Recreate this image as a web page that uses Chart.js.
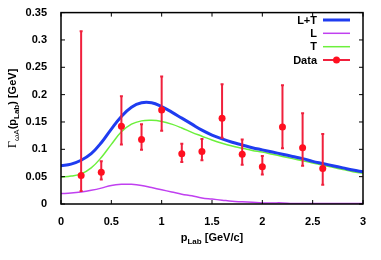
<!DOCTYPE html>
<html>
<head>
<meta charset="utf-8">
<script src="https://cdn.jsdelivr.net/npm/chart.js@4.4.1/dist/chart.umd.min.js"></script>
<style>
  html, body { margin: 0; padding: 0; background: #fff; }
  canvas { display: block; }
</style>
</head>
<body>
<canvas id="chart" width="381" height="260"></canvas>
<script>
const pGrid = [0, 0.1, 0.2, 0.3, 0.4, 0.5, 0.6, 0.7, 0.8, 0.9, 1.0,
               1.1, 1.2, 1.3, 1.4, 1.5, 1.6, 1.7, 1.8, 1.9, 2.0,
               2.1, 2.2, 2.3, 2.4, 2.5, 2.6, 2.7, 2.8, 2.9, 3.0];
const gammaLT = [0.070, 0.073, 0.080, 0.092, 0.112, 0.137, 0.160, 0.177, 0.185, 0.185, 0.178,
                 0.168, 0.157, 0.146, 0.135, 0.126, 0.119, 0.113, 0.108, 0.103, 0.099,
                 0.095, 0.091, 0.087, 0.083, 0.078, 0.074, 0.070, 0.066, 0.062, 0.059];
const gammaL = [0.019, 0.020, 0.022, 0.025, 0.029, 0.034, 0.036, 0.036, 0.034, 0.030, 0.026,
                0.022, 0.018, 0.015, 0.011, 0.009, 0.007, 0.005, 0.004, 0.003, 0.002,
                0.002, 0.002, 0.001, 0.001, 0.001, 0.001, 0.001, 0.001, 0.001, 0.001];
const gammaT = [0.049, 0.051, 0.055, 0.066, 0.085, 0.109, 0.132, 0.146, 0.152, 0.153, 0.151,
                0.146, 0.139, 0.131, 0.124, 0.117, 0.111, 0.106, 0.102, 0.098, 0.095,
                0.091, 0.087, 0.083, 0.079, 0.075, 0.071, 0.067, 0.063, 0.059, 0.056];

// Datos experimentales con barras de error
const pData = [0.2, 0.4, 0.6, 0.8, 1.0, 1.2, 1.4, 1.6, 1.8, 2.0, 2.2, 2.4, 2.6];
const gammaData = [0.052, 0.058, 0.142, 0.118, 0.172, 0.092, 0.096, 0.157, 0.091, 0.068, 0.141, 0.103, 0.065];
const errHigh = [0.316, 0.078, 0.197, 0.146, 0.233, 0.110, 0.119, 0.219, 0.118, 0.088, 0.217, 0.166, 0.128];
const errLow = [0.024, 0.045, 0.109, 0.099, 0.134, 0.077, 0.080, 0.121, 0.072, 0.054, 0.102, 0.070, 0.035];

// Marcas de los ejes
const xTickValues = [0, 0.5, 1, 1.5, 2, 2.5, 3];
const yTickValues = [0, 0.05, 0.1, 0.15, 0.2, 0.25, 0.3, 0.35];

const FONT = "'Liberation Sans', Arial, sans-serif";
const RED = '#ff1020';
const BAR = '#f0203c';

Chart.defaults.font.family = FONT;
Chart.defaults.font.size = 11;
Chart.defaults.font.weight = 'bold';
Chart.defaults.color = '#000';

// texto con subíndices: partes consecutivas
function drawRich(ctx, parts, x, y) {
    let total = 0;
    parts.forEach(p => {
        ctx.font = `${p.weight || 'bold'} ${p.size}px ${p.family || FONT}`;
        p.w = ctx.measureText(p.t).width;
        total += p.w;
    });
    let cx = x - total / 2;
    ctx.textAlign = 'left';
    ctx.textBaseline = 'alphabetic';
    parts.forEach(p => {
        ctx.font = `${p.weight || 'bold'} ${p.size}px ${p.family || FONT}`;
        ctx.fillText(p.t, cx, y + (p.dy || 0));
        cx += p.w;
    });
}

const framePlugin = {
    id: 'frame',
    beforeDatasetDraw(chart, args) {
        // barras de error antes de dibujar los puntos
        if (args.index !== 3) return;
        const { ctx, scales: { x, y } } = chart;
        ctx.save();
        ctx.strokeStyle = BAR;
        ctx.lineWidth = 2;
        ctx.beginPath();
        pData.forEach((p, i) => {
            const px = x.getPixelForValue(p);
            const top = y.getPixelForValue(errHigh[i]);
            const bot = y.getPixelForValue(errLow[i]);
            ctx.moveTo(px, top); ctx.lineTo(px, bot);
            ctx.moveTo(px - 1.5, top); ctx.lineTo(px + 1.5, top);
            ctx.moveTo(px - 1.5, bot); ctx.lineTo(px + 1.5, bot);
        });
        ctx.stroke();
        ctx.restore();
    },
    afterDraw(chart) {
        const { ctx, chartArea: a, scales: { x, y } } = chart;
        ctx.save();
        ctx.strokeStyle = '#000';
        ctx.lineWidth = 1.5;
        ctx.strokeRect(a.left, a.top, a.right - a.left, a.bottom - a.top);

        // marcas hacia dentro en los cuatro lados
        const t = 4;
        ctx.lineWidth = 1;
        ctx.beginPath();
        x.ticks.forEach(tk => {
            const px = x.getPixelForValue(tk.value);
            ctx.moveTo(px, a.bottom); ctx.lineTo(px, a.bottom - t);
            ctx.moveTo(px, a.top); ctx.lineTo(px, a.top + t);
        });
        y.ticks.forEach(tk => {
            const py = y.getPixelForValue(tk.value);
            ctx.moveTo(a.left, py); ctx.lineTo(a.left + t, py);
            ctx.moveTo(a.right, py); ctx.lineTo(a.right - t, py);
        });
        ctx.stroke();

        // títulos de los ejes
        ctx.fillStyle = '#000';
        drawRich(ctx, [
            { t: 'p', size: 11 },
            { t: 'Lab', size: 8, dy: 3 },
            { t: ' [GeV/c]', size: 11 }
        ], (a.left + a.right) / 2, 241);

        ctx.save();
        ctx.translate(13, (a.top + a.bottom) / 2);
        ctx.rotate(-Math.PI / 2);
        drawRich(ctx, [
            { t: 'Γ', size: 12, weight: 'normal', family: "'Liberation Serif', serif" },
            { t: 'ωA', size: 8, weight: 'normal', dy: 3 },
            { t: '(p', size: 11 },
            { t: 'Lab', size: 8, dy: 3 },
            { t: ') [GeV]', size: 11 }
        ], 0, 3);
        ctx.restore();

        // leyenda: texto a la izquierda, muestra a la derecha
        const rows = [20, 33.3, 46.7, 60];
        ctx.font = `bold 11px ${FONT}`;
        ctx.textAlign = 'right';
        ctx.textBaseline = 'middle';
        chart.data.datasets.forEach((ds, i) => {
            const ry = rows[i];
            ctx.fillStyle = '#000';
            ctx.fillText(ds.label, 317, ry + 0.5);
            if (i < 3) {
                ctx.strokeStyle = ds.borderColor;
                ctx.lineWidth = ds.borderWidth;
                ctx.beginPath(); ctx.moveTo(323, ry); ctx.lineTo(350, ry); ctx.stroke();
            } else {
                ctx.strokeStyle = BAR;
                ctx.lineWidth = 2;
                ctx.beginPath(); ctx.moveTo(323, ry); ctx.lineTo(350, ry); ctx.stroke();
                ctx.fillStyle = RED;
                ctx.beginPath(); ctx.arc(336.5, ry, 3.5, 0, Math.PI * 2); ctx.fill();
            }
        });
        ctx.restore();
    }
};

const toXY = (xs, ys) => xs.map((v, i) => ({ x: v, y: ys[i] }));
const fmt = v => String(+v.toFixed(2));

new Chart(document.getElementById('chart'), {
    type: 'line',
    data: {
        datasets: [{
            label: 'L+T', data: toXY(pGrid, gammaLT), order: 1,
            borderColor: '#1f3cf0', borderWidth: 3, pointRadius: 0, tension: 0.4
        }, {
            label: 'L', data: toXY(pGrid, gammaL), order: 3,
            borderColor: '#c040f0', borderWidth: 1.5, pointRadius: 0, tension: 0.4
        }, {
            label: 'T', data: toXY(pGrid, gammaT), order: 2,
            borderColor: '#6cf03c', borderWidth: 1.5, pointRadius: 0, tension: 0.4
        }, {
            label: 'Data', data: toXY(pData, gammaData), order: 0,
            showLine: false, pointRadius: 3.5, pointBackgroundColor: RED, pointBorderWidth: 0
        }]
    },
    options: {
        responsive: false,
        animation: false,
        layout: { padding: { top: 11, right: 18, left: 0, bottom: 0 } },
        plugins: { legend: { display: false }, tooltip: { enabled: false } },
        scales: {
            x: {
                type: 'linear', min: 0, max: 3,
                grid: { display: false }, border: { display: false },
                afterBuildTicks: s => { s.ticks = xTickValues.map(v => ({ value: v })); },
                afterFit: s => { s.height = 56; },
                ticks: { padding: 3, maxRotation: 0, callback: fmt }
            },
            y: {
                type: 'linear', min: 0, max: 0.35,
                grid: { display: false }, border: { display: false },
                afterBuildTicks: s => { s.ticks = yTickValues.map(v => ({ value: v })); },
                afterFit: s => { s.width = 61; },
                ticks: { padding: 6, callback: fmt }
            }
        }
    },
    plugins: [framePlugin]
});
</script>
</body>
</html>
